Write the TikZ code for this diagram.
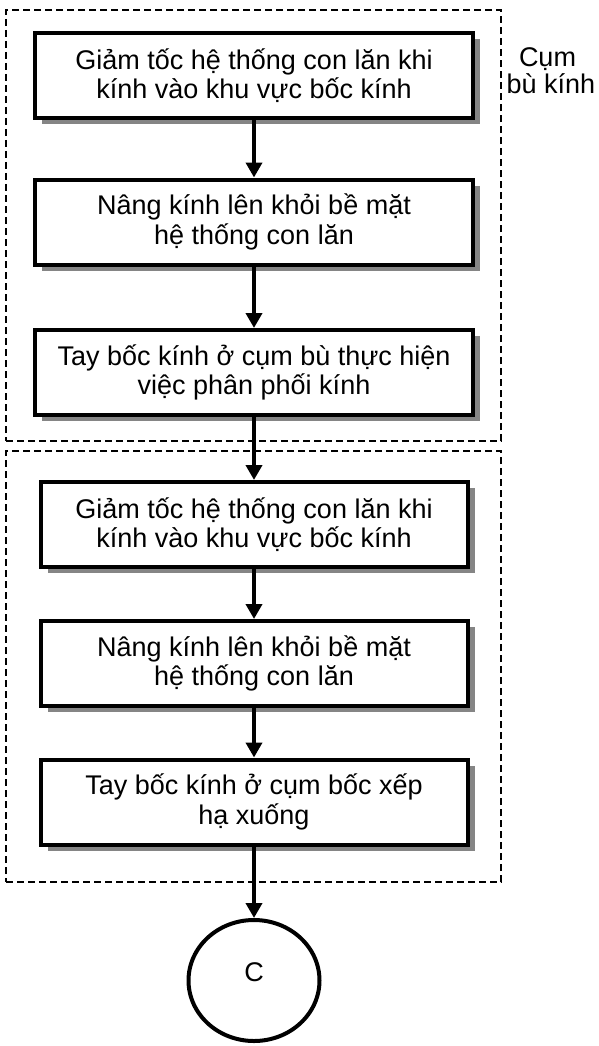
\documentclass[tikz,border=0pt]{standalone}
\usepackage{fontspec}
\setmainfont{Liberation Sans}
\usetikzlibrary{arrows.meta,shadows,shapes.geometric}
\definecolor{shadowgray}{RGB}{133,133,133}

\begin{document}
\begin{tikzpicture}[x=1pt,y=-1pt,
  stepbox/.style={draw, line width=4pt, fill=white, align=center, inner sep=0pt,
    minimum height=85pt, font=\fontsize{27}{29.5}\selectfont,
    drop shadow={shadow xshift=7pt, shadow yshift=-6pt, fill=shadowgray, opacity=1}},
  topbox/.style={stepbox, minimum width=438pt},
  lowbox/.style={stepbox, minimum width=427pt},
  group/.style={draw, dash pattern=on 7pt off 4pt, line width=2pt, inner sep=0pt},
  flow/.style={line width=4pt, -{Triangle[width=16pt,length=15pt]}},
  endpoint/.style={ellipse, draw, line width=4pt, inner sep=0pt,
    minimum width=131pt, minimum height=121pt,
    text height=19pt, text depth=18pt, font=\fontsize{27}{29.5}\selectfont},
]
\useasboundingbox (0,0) rectangle (598,1046);

% dashed frames of the two station groups
\node[group, minimum width=495pt, minimum height=431pt] (g1) at (253.5,225.5) {};
\node[group, minimum width=495pt, minimum height=431pt] (g2) at (253.5,666.5) {};

\node[font=\fontsize{27}{27}\selectfont, align=center] (lbl) at (551,71)
  {Cụm\kern7pt\\bù kính};

% compensation group
\node[topbox] (b1) at (254,75.5) {Giảm tốc hệ thống con lăn khi\\kính vào khu vực bốc kính};
\node[topbox] (b2) at (254,222) {Nâng kính lên khỏi bề mặt\\hệ thống con lăn};
\node[topbox] (b3) at (254,372.5) {Tay bốc kính ở cụm bù thực hiện\\việc phân phối kính};

% stacking group
\node[lowbox] (b4) at (254,524.5) {Giảm tốc hệ thống con lăn khi\\kính vào khu vực bốc kính};
\node[lowbox] (b5) at (254,663.5) {Nâng kính lên khỏi bề mặt\\hệ thống con lăn};
\node[lowbox] (b6) at (254,802) {Tay bốc kính ở cụm bốc xếp\\hạ xuống};

\node[endpoint] (c) at (254,980.5) {C};

\draw[flow] (b1) -- (b2);
\draw[flow] (b2) -- (b3);
\draw[flow] (b3) -- (b4);
\draw[flow] (b4) -- (b5);
\draw[flow] (b5) -- (b6);
\draw[flow] (b6) -- (c);
\end{tikzpicture}
\end{document}
